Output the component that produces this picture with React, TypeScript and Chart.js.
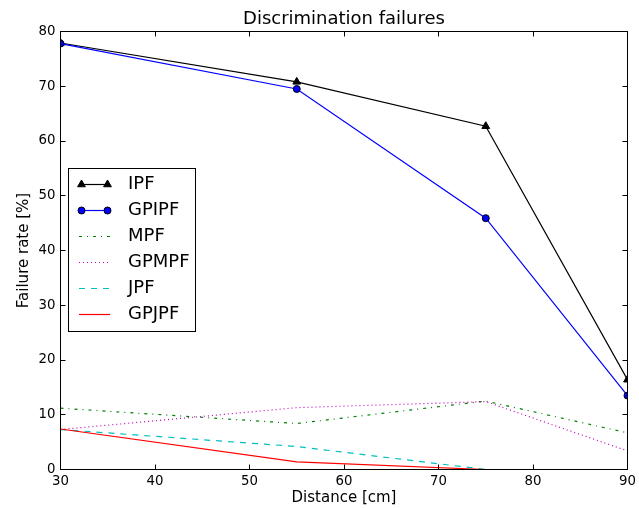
import React, { useEffect, useRef } from 'react';
import { Chart, registerables } from 'chart.js';

Chart.register(...registerables);

const chartTitle = 'Discrimination failures';
const xLabel = 'Distance [cm]';
const yLabel = 'Failure rate [%]';
const distances = [30, 55, 75, 90];
const ipf = [77.9, 70.8, 62.7, 16.4];
const gpipf = [77.8, 69.5, 45.9, 13.5];
const mpf = [11.2, 8.4, 12.5, 6.7];
const gpmpf = [7.3, 11.3, 12.4, 3.4];
const jpf = [7.3, 4.2, 0, 0];
const gpjpf = [7.4, 1.4, 0, 0];

const FONT = '"DejaVu Sans", "Liberation Sans", sans-serif';
const LW = 1.2;

const toPts = (vals: number[]) => vals.map((v, i) => ({ x: distances[i], y: v }));

const snap = (v: number) => Math.round(v - 0.5) + 0.5;

const mplPlugin = {
  id: 'mplFrame',
  afterDatasetsDraw(chart: any) {
    const { ctx, chartArea } = chart;
    const { left, right, top, bottom } = chartArea;
    const xs = chart.scales.x;
    const ys = chart.scales.y;
    ctx.save();
    ctx.strokeStyle = '#000';
    ctx.lineWidth = 1;
    ctx.setLineDash([]);
    ctx.strokeRect(left, top, right - left, bottom - top);
    ctx.beginPath();
    const tl = 5;
    xs.ticks.forEach((t: any) => {
      const px = snap(xs.getPixelForValue(t.value));
      ctx.moveTo(px, bottom);
      ctx.lineTo(px, bottom - tl);
      ctx.moveTo(px, top);
      ctx.lineTo(px, top + tl);
    });
    ys.ticks.forEach((t: any) => {
      const py = snap(ys.getPixelForValue(t.value));
      ctx.moveTo(left, py);
      ctx.lineTo(left + tl, py);
      ctx.moveTo(right, py);
      ctx.lineTo(right - tl, py);
    });
    ctx.stroke();

    // title
    ctx.fillStyle = '#000';
    ctx.font = `18px ${FONT}`;
    ctx.textAlign = 'center';
    ctx.textBaseline = 'alphabetic';
    ctx.fillText(chartTitle, (left + right) / 2, 24);

    // legend
    const bx = 68.5, by = 168.5, bw = 127, bh = 163;
    ctx.fillStyle = '#fff';
    ctx.fillRect(bx, by, bw, bh);
    ctx.strokeStyle = '#000';
    ctx.strokeRect(bx, by, bw, bh);
    const rowY0 = 184;
    const rowStep = 25.9;
    const hx0 = 81.5, hx1 = 107.5;
    chart.data.datasets.forEach((ds: any, i: number) => {
      const y = Math.round(rowY0 + i * rowStep) + 0.5;
      ctx.save();
      ctx.strokeStyle = ds.borderColor;
      ctx.lineWidth = LW;
      ctx.setLineDash(ds.borderDash || []);
      ctx.beginPath();
      if (ds.pointRadius > 0) {
        ctx.moveTo(hx0, y);
        ctx.lineTo(hx1, y);
      } else {
        ctx.moveTo(79, y);
        ctx.lineTo(110, y);
      }
      ctx.stroke();
      ctx.setLineDash([]);
      if (ds.pointRadius > 0) {
        [hx0, hx1].forEach((mx) => {
          ctx.fillStyle = ds.pointBackgroundColor;
          ctx.strokeStyle = ds.pointBorderColor;
          ctx.lineWidth = ds.pointBorderWidth;
          ctx.beginPath();
          if (ds.pointStyle === 'triangle') {
            const r = ds.pointRadius;
            let rad = 0;
            ctx.moveTo(mx + Math.sin(rad) * r, y - Math.cos(rad) * r);
            rad += (2 * Math.PI) / 3;
            ctx.lineTo(mx + Math.sin(rad) * r, y - Math.cos(rad) * r);
            rad += (2 * Math.PI) / 3;
            ctx.lineTo(mx + Math.sin(rad) * r, y - Math.cos(rad) * r);
            ctx.closePath();
          } else {
            ctx.arc(mx, y, ds.pointRadius, 0, Math.PI * 2);
          }
          ctx.fill();
          ctx.stroke();
        });
      }
      ctx.fillStyle = '#000';
      ctx.font = `18px ${FONT}`;
      ctx.textAlign = 'left';
      ctx.textBaseline = 'middle';
      ctx.fillText(ds.label, 128, y);
      ctx.restore();
    });
    ctx.restore();
  },
};

export default function App() {
  const ref = useRef<HTMLCanvasElement | null>(null);

  useEffect(() => {
    document.body.style.margin = '0';
    if (!ref.current) return;
    Chart.defaults.font.family = FONT;
    Chart.defaults.color = '#000';
    const line = (label: string, data: number[], color: string, dash: number[], extra: any = {}) => ({
      label,
      data: toPts(data),
      borderColor: color,
      backgroundColor: color,
      borderWidth: LW,
      borderDash: dash,
      pointRadius: 0,
      pointHoverRadius: 0,
      tension: 0,
      fill: false,
      clip: 0,
      ...extra,
    });
    const datasets = [
      line('IPF', ipf, '#000000', [], {
        pointStyle: 'triangle', pointRadius: 4.5, pointBackgroundColor: '#000000',
        pointBorderColor: '#000000', pointBorderWidth: 1, order: 6,
      }),
      line('GPIPF', gpipf, '#0000ff', [], {
        pointStyle: 'circle', pointRadius: 3.5, pointBackgroundColor: '#0000ff',
        pointBorderColor: '#000000', pointBorderWidth: 1, order: 5,
      }),
      line('MPF', mpf, '#008000', [3, 5, 1, 5], { order: 4 }),
      line('GPMPF', gpmpf, '#bf00bf', [1, 3], { order: 3 }),
      line('JPF', jpf, '#00bfbf', [6, 6], { order: 2 }),
      line('GPJPF', gpjpf, '#ff0000', [], { order: 1 }),
    ];
    const chart = new Chart(ref.current, {
      type: 'line',
      data: { datasets },
      options: {
        animation: false,
        responsive: false,
        devicePixelRatio: 1,
        layout: { padding: { top: 31.5, right: 11.5, left: 0, bottom: 0 } },
        plugins: {
          legend: { display: false },
          title: { display: false },
          tooltip: { enabled: false },
        },
        events: [],
        scales: {
          x: {
            type: 'linear',
            min: 30,
            max: 90,
            ticks: { stepSize: 10, padding: 4, color: '#000', font: { size: 13.3 }, maxRotation: 0, autoSkip: false },
            grid: { display: false, drawTicks: false },
            border: { display: false },
            title: { display: true, text: xLabel, color: '#000', font: { size: 15 }, padding: { top: 0, bottom: 2 } },
            afterFit(s: any) {
              s.height = 39.5;
              s.paddingLeft = 0;
              s.paddingRight = 0;
            },
          },
          y: {
            type: 'linear',
            min: 0,
            max: 80,
            ticks: { stepSize: 10, padding: 5, color: '#000', font: { size: 13.3 } },
            grid: { display: false, drawTicks: false },
            border: { display: false },
            title: { display: true, text: yLabel, color: '#000', font: { size: 15 }, padding: { top: 15, bottom: 0 } },
            afterFit(s: any) {
              s.width = 60.5;
              s.paddingTop = 0;
              s.paddingBottom = 0;
            },
          },
        },
      },
      plugins: [mplPlugin],
    });
    return () => chart.destroy();
  }, []);

  return <canvas ref={ref} width={639} height={509} style={{ display: 'block' }} />;
}
